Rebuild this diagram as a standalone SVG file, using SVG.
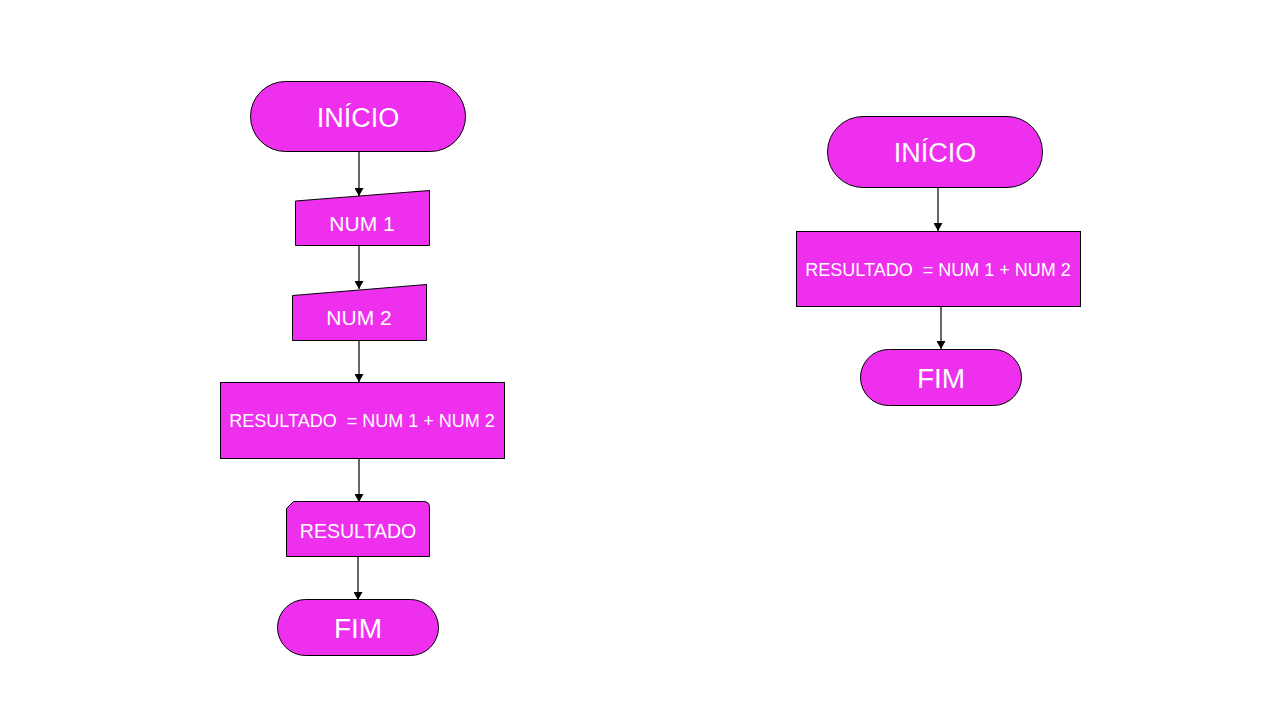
<svg xmlns="http://www.w3.org/2000/svg" width="1280" height="720" viewBox="0 0 1280 720">
<style>
.s{fill:#EE30EE;stroke:#000;stroke-width:1}
.t{fill:#fff;font-family:"Liberation Sans",Arial,sans-serif;text-anchor:middle;dominant-baseline:alphabetic;white-space:pre}
.c{stroke:#000;stroke-width:1.2;fill:none;marker-end:url(#a)}
</style>
<defs>
<marker id="a" markerWidth="8" markerHeight="9" refX="8" refY="4.5" orient="auto" markerUnits="userSpaceOnUse" viewBox="0 0 8 9">
<path d="M0,0 L8,4.5 L0,9 Z" fill="#000"/>
</marker>
</defs>
<rect width="1280" height="720" fill="#fff"/>
<g id="connectors">
<line class="c" x1="359" y1="151" x2="359" y2="196"/>
<line class="c" x1="359" y1="245" x2="359" y2="289"/>
<line class="c" x1="359" y1="340" x2="359" y2="382"/>
<line class="c" x1="359" y1="458" x2="359" y2="502"/>
<line class="c" x1="358" y1="556" x2="358" y2="600"/>
<line class="c" x1="938" y1="187" x2="938" y2="231"/>
<line class="c" x1="941" y1="306" x2="941" y2="349"/>
</g>
<g id="inicio1">
<rect class="s" x="250.5" y="81.5" width="215" height="70" rx="35" ry="35"/>
<text class="t" x="358" y="127" font-size="27">INÍCIO</text>
</g>
<g id="num1">
<polygon class="s" points="295.5,201 429.5,190.5 429.5,245.5 295.5,245.5"/>
<text class="t" x="362" y="231" font-size="21">NUM 1</text>
</g>
<g id="num2">
<polygon class="s" points="292.5,295.5 426.5,284.5 426.5,340.5 292.5,340.5"/>
<text class="t" x="359" y="325" font-size="21">NUM 2</text>
</g>
<g id="calc1">
<rect class="s" x="220.5" y="382.5" width="284" height="76"/>
<text class="t" x="362" y="427" font-size="18" xml:space="preserve">RESULTADO  = NUM 1 + NUM 2</text>
</g>
<g id="saida">
<path class="s" d="M293.5,501.5 L423.5,501.5 Q429.5,501.5 429.5,507.5 L429.5,556.5 L286.5,556.5 L286.5,508.5 Z"/>
<text class="t" x="358" y="538" font-size="19.5">RESULTADO</text>
</g>
<g id="fim1">
<rect class="s" x="277.5" y="599.5" width="161" height="56" rx="28" ry="28"/>
<text class="t" x="358" y="638" font-size="28">FIM</text>
</g>
<g id="inicio2">
<rect class="s" x="827.5" y="116.5" width="215" height="71" rx="35.5" ry="35.5"/>
<text class="t" x="935" y="162" font-size="27">INÍCIO</text>
</g>
<g id="calc2">
<rect class="s" x="796.5" y="231.5" width="284" height="75"/>
<text class="t" x="938" y="276" font-size="18" xml:space="preserve">RESULTADO  = NUM 1 + NUM 2</text>
</g>
<g id="fim2">
<rect class="s" x="860.5" y="349.5" width="161" height="56" rx="28" ry="28"/>
<text class="t" x="941" y="388" font-size="28">FIM</text>
</g>
</svg>
